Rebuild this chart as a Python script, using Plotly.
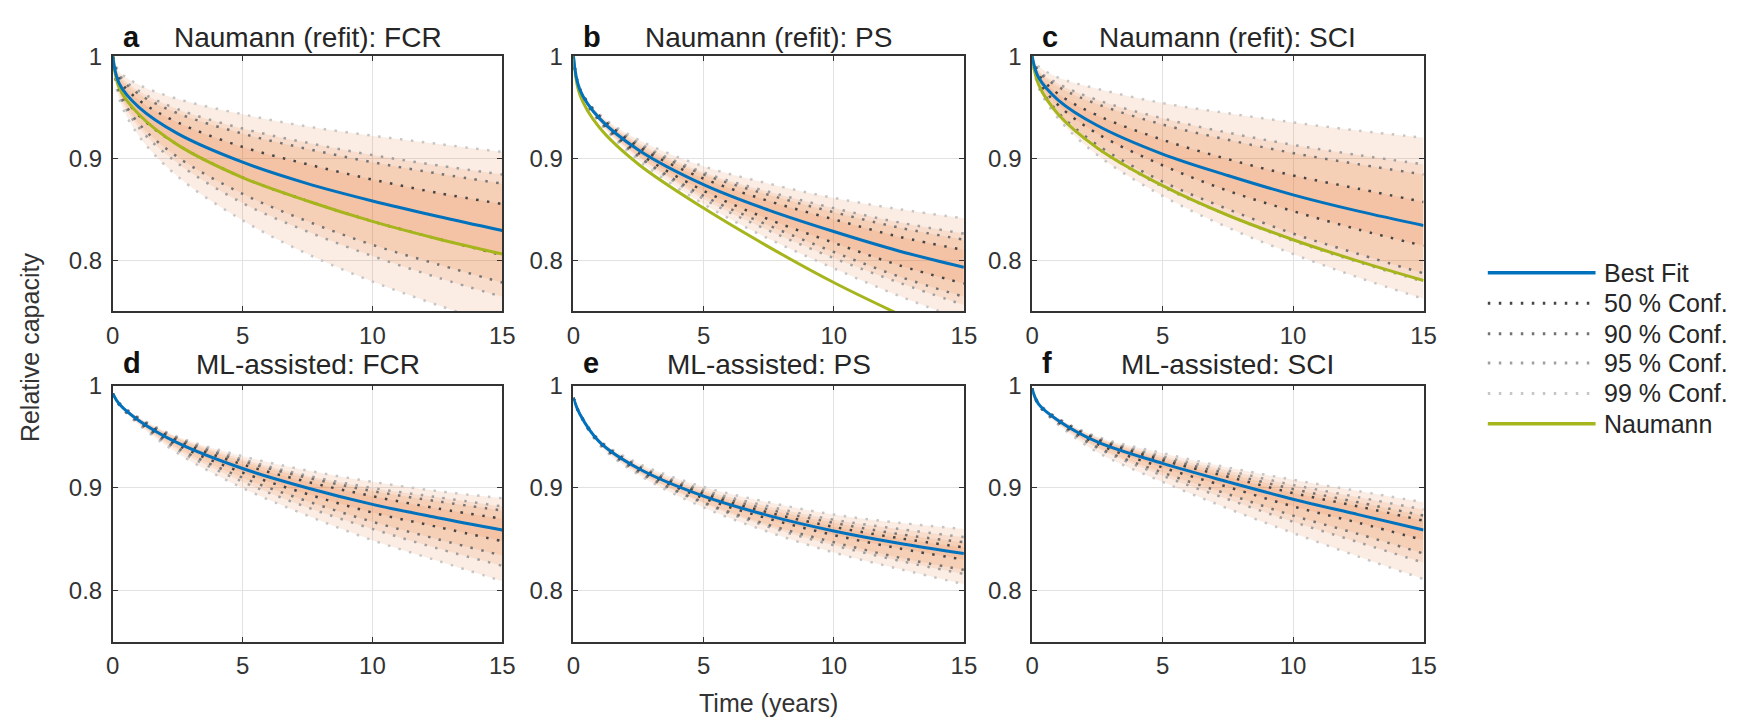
import plotly.graph_objects as go

W, H = 1742, 718

# ---------------- data ----------------
T = [0, 0.25, 1, 2.5, 5, 7.5, 10, 12.5, 15]

A_BEST = [1.000, 0.973, 0.950, 0.924, 0.896, 0.875, 0.858, 0.843, 0.829]
A_NAU  = [1.000, 0.969, 0.943, 0.913, 0.881, 0.858, 0.838, 0.821, 0.806]
A_UP99 = [1.000, 0.985, 0.972, 0.958, 0.943, 0.931, 0.922, 0.914, 0.906]
A_UP95 = [1.000, 0.982, 0.966, 0.948, 0.929, 0.915, 0.903, 0.893, 0.884]
A_UP90 = [1.000, 0.980, 0.963, 0.944, 0.924, 0.909, 0.896, 0.885, 0.875]
A_UP50 = [1.000, 0.977, 0.957, 0.935, 0.911, 0.894, 0.879, 0.866, 0.855]
A_LO50 = [1.000, 0.969, 0.942, 0.913, 0.881, 0.858, 0.838, 0.821, 0.805]
A_LO90 = [1.000, 0.965, 0.934, 0.901, 0.865, 0.838, 0.815, 0.796, 0.778]
A_LO95 = [1.000, 0.963, 0.930, 0.895, 0.856, 0.828, 0.804, 0.783, 0.764]
A_LO99 = [1.000, 0.958, 0.922, 0.882, 0.839, 0.806, 0.779, 0.756, 0.735]

B_BEST = [1.000, 0.967, 0.939, 0.908, 0.874, 0.849, 0.828, 0.809, 0.793]
B_NAU  = [1.000, 0.962, 0.930, 0.894, 0.851, 0.813, 0.778, 0.747, 0.718]
B_UP99 = [1.000, 0.968, 0.943, 0.918, 0.892, 0.875, 0.861, 0.850, 0.841]
B_UP95 = [1.000, 0.968, 0.942, 0.915, 0.886, 0.867, 0.851, 0.837, 0.826]
B_UP90 = [1.000, 0.968, 0.941, 0.913, 0.884, 0.864, 0.847, 0.832, 0.820]
B_UP50 = [1.000, 0.967, 0.941, 0.911, 0.880, 0.858, 0.840, 0.823, 0.810]
B_LO50 = [1.000, 0.967, 0.938, 0.905, 0.868, 0.840, 0.817, 0.795, 0.777]
B_LO90 = [1.000, 0.966, 0.937, 0.902, 0.863, 0.834, 0.808, 0.784, 0.764]
B_LO95 = [1.000, 0.966, 0.936, 0.901, 0.860, 0.829, 0.802, 0.778, 0.756]
B_LO99 = [1.000, 0.966, 0.935, 0.898, 0.855, 0.821, 0.792, 0.765, 0.741]

C_BEST = [1.000, 0.979, 0.957, 0.932, 0.904, 0.883, 0.864, 0.848, 0.834]
C_NAU  = [1.000, 0.972, 0.943, 0.910, 0.873, 0.844, 0.820, 0.799, 0.780]
C_UP99 = [1.000, 0.990, 0.979, 0.968, 0.954, 0.944, 0.935, 0.927, 0.920]
C_UP95 = [1.000, 0.986, 0.973, 0.957, 0.939, 0.925, 0.913, 0.903, 0.894]
C_UP90 = [1.000, 0.985, 0.970, 0.953, 0.933, 0.918, 0.905, 0.894, 0.884]
C_UP50 = [1.000, 0.982, 0.963, 0.942, 0.918, 0.899, 0.883, 0.870, 0.857]
C_LO50 = [1.000, 0.976, 0.952, 0.924, 0.893, 0.868, 0.848, 0.830, 0.814]
C_LO90 = [1.000, 0.973, 0.945, 0.913, 0.877, 0.850, 0.826, 0.806, 0.787]
C_LO95 = [1.000, 0.971, 0.943, 0.910, 0.872, 0.844, 0.819, 0.798, 0.779]
C_LO99 = [1.000, 0.969, 0.939, 0.903, 0.863, 0.832, 0.806, 0.783, 0.762]

D_BEST = [0.992, 0.982, 0.966, 0.944, 0.919, 0.900, 0.884, 0.871, 0.859]
D_UP99 = [0.992, 0.983, 0.969, 0.950, 0.931, 0.917, 0.906, 0.897, 0.890]
D_UP95 = [0.992, 0.983, 0.968, 0.949, 0.928, 0.912, 0.900, 0.891, 0.882]
D_UP90 = [0.992, 0.983, 0.968, 0.948, 0.926, 0.910, 0.897, 0.887, 0.878]
D_UP50 = [0.992, 0.982, 0.967, 0.946, 0.923, 0.906, 0.892, 0.880, 0.870]
D_LO50 = [0.992, 0.982, 0.965, 0.942, 0.915, 0.894, 0.876, 0.862, 0.848]
D_LO90 = [0.992, 0.981, 0.964, 0.939, 0.910, 0.887, 0.867, 0.850, 0.834]
D_LO95 = [0.992, 0.981, 0.963, 0.937, 0.906, 0.881, 0.860, 0.841, 0.824]
D_LO99 = [0.992, 0.981, 0.962, 0.934, 0.900, 0.873, 0.849, 0.829, 0.809]

E_BEST = [0.988, 0.972, 0.945, 0.919, 0.892, 0.873, 0.858, 0.846, 0.836]
E_UP99 = [0.988, 0.973, 0.947, 0.924, 0.901, 0.886, 0.874, 0.866, 0.860]
E_UP95 = [0.988, 0.972, 0.946, 0.922, 0.898, 0.882, 0.869, 0.860, 0.852]
E_UP90 = [0.988, 0.972, 0.946, 0.921, 0.896, 0.879, 0.866, 0.855, 0.847]
E_UP50 = [0.988, 0.972, 0.946, 0.920, 0.894, 0.876, 0.862, 0.851, 0.842]
E_LO50 = [0.988, 0.972, 0.944, 0.918, 0.890, 0.870, 0.854, 0.841, 0.830]
E_LO90 = [0.988, 0.972, 0.944, 0.916, 0.886, 0.864, 0.847, 0.832, 0.820]
E_LO95 = [0.988, 0.972, 0.943, 0.915, 0.885, 0.862, 0.844, 0.829, 0.816]
E_LO99 = [0.988, 0.971, 0.942, 0.913, 0.881, 0.857, 0.837, 0.821, 0.806]

F_BEST = [0.997, 0.982, 0.966, 0.945, 0.924, 0.906, 0.889, 0.874, 0.859]
F_UP99 = [0.997, 0.983, 0.968, 0.950, 0.934, 0.920, 0.908, 0.897, 0.886]
F_UP95 = [0.997, 0.983, 0.968, 0.949, 0.931, 0.917, 0.903, 0.891, 0.879]
F_UP90 = [0.997, 0.982, 0.967, 0.948, 0.929, 0.914, 0.899, 0.886, 0.873]
F_UP50 = [0.997, 0.982, 0.967, 0.947, 0.927, 0.911, 0.895, 0.882, 0.868]
F_LO50 = [0.997, 0.982, 0.965, 0.943, 0.920, 0.901, 0.882, 0.866, 0.849]
F_LO90 = [0.997, 0.981, 0.964, 0.940, 0.915, 0.894, 0.873, 0.855, 0.836]
F_LO95 = [0.997, 0.981, 0.963, 0.939, 0.912, 0.889, 0.867, 0.847, 0.827]
F_LO99 = [0.997, 0.981, 0.962, 0.935, 0.906, 0.880, 0.856, 0.833, 0.811]

PANEL_LETTERS = ["a", "b", "c", "d", "e", "f"]
PANEL_TITLES = ["Naumann (refit): FCR", "Naumann (refit): PS", "Naumann (refit): SCI",
                "ML-assisted: FCR", "ML-assisted: PS", "ML-assisted: SCI"]
LEGEND_LABELS = ["Best Fit", "50 % Conf.", "90 % Conf.", "95 % Conf.", "99 % Conf.", "Naumann"]
X_TICKS = [0, 5, 10, 15]
Y_TICKS = [0.8, 0.9, 1.0]
Y_TICKTEXT = ["0.8", "0.9", "1"]

panels = [
    dict(best=A_BEST, nau=A_NAU, up={99: A_UP99, 95: A_UP95, 90: A_UP90, 50: A_UP50},
         lo={99: A_LO99, 95: A_LO95, 90: A_LO90, 50: A_LO50}),
    dict(best=B_BEST, nau=B_NAU, up={99: B_UP99, 95: B_UP95, 90: B_UP90, 50: B_UP50},
         lo={99: B_LO99, 95: B_LO95, 90: B_LO90, 50: B_LO50}),
    dict(best=C_BEST, nau=C_NAU, up={99: C_UP99, 95: C_UP95, 90: C_UP90, 50: C_UP50},
         lo={99: C_LO99, 95: C_LO95, 90: C_LO90, 50: C_LO50}),
    dict(best=D_BEST, nau=None, up={99: D_UP99, 95: D_UP95, 90: D_UP90, 50: D_UP50},
         lo={99: D_LO99, 95: D_LO95, 90: D_LO90, 50: D_LO50}),
    dict(best=E_BEST, nau=None, up={99: E_UP99, 95: E_UP95, 90: E_UP90, 50: E_UP50},
         lo={99: E_LO99, 95: E_LO95, 90: E_LO90, 50: E_LO50}),
    dict(best=F_BEST, nau=None, up={99: F_UP99, 95: F_UP95, 90: F_UP90, 50: F_UP50},
         lo={99: F_LO99, 95: F_LO95, 90: F_LO90, 50: F_LO50}),
]

# ---------------- styling ----------------
FONT = "Liberation Sans, Arial, Helvetica, sans-serif"
TXT = "#262626"
BLUE = "#0072BD"
GREEN = "#A6B51C"
FILL = "rgba(234,118,48,0.13)"
DOT_COL = {50: "#454545", 90: "#737373", 95: "#a0a0a0", 99: "#c6c6c6"}
DOT_DASH = "2.5px,8.5px"

# pixel geometry of the axes boxes
COLS = [(107, 501), (573, 968), (1037, 1433)]
ROWS = [(43, 303), (379, 640)]


def px(x):
    return x / W


def py(y):
    return 1 - y / H


fig = go.Figure()
layout = dict(
    width=W, height=H, margin=dict(l=0, r=0, t=0, b=0),
    paper_bgcolor="white", plot_bgcolor="white", showlegend=False,
    font=dict(family=FONT, color=TXT),
)
annotations = []
shapes = []

for i, p in enumerate(panels):
    r, c = divmod(i, 3)
    n = "" if i == 0 else str(i + 1)
    xa, ya = "x" + n, "y" + n
    x0, x1 = COLS[c]
    y0, y1 = ROWS[r]
    layout["xaxis" + n] = dict(
        domain=[px(x0), px(x1)], range=[0, 15], anchor=ya,
        tickvals=X_TICKS, ticks="inside", ticklen=5, tickwidth=1.2, tickcolor="#333",
        showline=True, linecolor="#333", linewidth=1.6, mirror="ticks",
        showgrid=True, gridcolor="#e2e2e2", gridwidth=1, zeroline=False,
        tickfont=dict(size=24, color="#333", family=FONT), ticklabelstandoff=2,
    )
    layout["yaxis" + n] = dict(
        domain=[py(y1), py(y0)], range=[0.75, 1.0], anchor=xa,
        tickvals=Y_TICKS, ticktext=Y_TICKTEXT, ticks="inside", ticklen=5, tickwidth=1.2,
        tickcolor="#333", showline=True, linecolor="#333", linewidth=1.6, mirror="ticks",
        showgrid=True, gridcolor="#e2e2e2", gridwidth=1, zeroline=False,
        tickfont=dict(size=24, color="#333", family=FONT), ticklabelstandoff=4,
    )
    # confidence bands (fills + dotted bounds)
    for lvl in [99, 95, 90, 50]:
        dl = dict(color=DOT_COL[lvl], width=2.5, dash=DOT_DASH, shape="spline", smoothing=1.0)
        fig.add_trace(go.Scatter(x=T, y=p["lo"][lvl], mode="lines", line=dl,
                                 xaxis=xa, yaxis=ya, hoverinfo="skip"))
        fig.add_trace(go.Scatter(x=T, y=p["up"][lvl], mode="lines", line=dl,
                                 fill="tonexty", fillcolor=FILL,
                                 xaxis=xa, yaxis=ya, hoverinfo="skip"))
    if p["nau"] is not None:
        fig.add_trace(go.Scatter(x=T, y=p["nau"], mode="lines",
                                 line=dict(color=GREEN, width=3, shape="spline", smoothing=1.0),
                                 xaxis=xa, yaxis=ya))
    fig.add_trace(go.Scatter(x=T, y=p["best"], mode="lines",
                             line=dict(color=BLUE, width=3, shape="spline", smoothing=1.0),
                             xaxis=xa, yaxis=ya))

    # panel title and letter
    ty = 24 if r == 0 else 357
    annotations.append(dict(text=PANEL_TITLES[i], x=px((x0 + x1) / 2), y=py(ty),
                            xref="paper", yref="paper", xanchor="center", yanchor="middle",
                            showarrow=False, font=dict(size=28, color=TXT, family=FONT)))
    annotations.append(dict(text="<b>" + PANEL_LETTERS[i] + "</b>", x=px(x0 + 8), y=py(ty - 1),
                            xref="paper", yref="paper", xanchor="left", yanchor="middle",
                            showarrow=False, font=dict(size=29, color="#111", family=FONT)))

# shared axis labels
annotations.append(dict(text="Relative capacity", x=px(24), y=py(340), xref="paper", yref="paper",
                        textangle=-90, xanchor="center", yanchor="middle", showarrow=False,
                        font=dict(size=25, color="#333", family=FONT)))
annotations.append(dict(text="Time (years)", x=px(770), y=py(703), xref="paper", yref="paper",
                        xanchor="center", yanchor="middle", showarrow=False,
                        font=dict(size=25, color="#333", family=FONT)))

# legend (drawn manually so the line samples match the reference length)
leg_y = [264, 295, 326, 356, 387, 418]
leg_style = [dict(color=BLUE, width=3.5),
             dict(color=DOT_COL[50], width=3, dash=DOT_DASH),
             dict(color=DOT_COL[90], width=3, dash=DOT_DASH),
             dict(color=DOT_COL[95], width=3, dash=DOT_DASH),
             dict(color=DOT_COL[99], width=3, dash=DOT_DASH),
             dict(color=GREEN, width=3.5)]
for lab, yy, st in zip(LEGEND_LABELS, leg_y, leg_style):
    shapes.append(dict(type="line", xref="paper", yref="paper",
                       x0=px(1498), x1=px(1607), y0=py(yy), y1=py(yy), line=st))
    annotations.append(dict(text=lab, x=px(1614), y=py(yy), xref="paper", yref="paper",
                            xanchor="left", yanchor="middle", showarrow=False,
                            font=dict(size=25, color=TXT, family=FONT)))

layout["annotations"] = annotations
layout["shapes"] = shapes
fig.update_layout(**layout)
fig.write_html("out.html")
